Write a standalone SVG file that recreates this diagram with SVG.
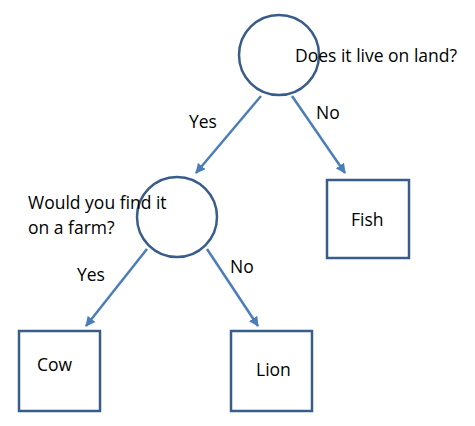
<svg xmlns="http://www.w3.org/2000/svg" width="475" height="426" viewBox="0 0 475 426">
<style>
.n{fill:#fff;stroke:#385d8a;stroke-width:2.5}
.c{stroke:#4a7ebb;stroke-width:2.5;fill:none;marker-end:url(#ah)}
text{font-family:"Open Sans","Liberation Sans",sans-serif;font-size:17.5px;fill:#000}
</style>
<defs>
<marker id="ah" viewBox="0 0 10 10" refX="9" refY="5" markerWidth="4" markerHeight="4" orient="auto" markerUnits="strokeWidth">
<path d="M0,0L10,5L0,10z" fill="#4a7ebb"/>
</marker>
</defs>
<rect width="475" height="426" fill="#fff"/>
<g id="connectors">
<line class="c" x1="261" y1="96" x2="196" y2="173"/>
<line class="c" x1="292" y1="96" x2="345" y2="173"/>
<line class="c" x1="147" y1="249" x2="86" y2="326"/>
<line class="c" x1="207" y1="249" x2="258" y2="326"/>
<text x="189" y="128">Yes</text>
<text x="316" y="119">No</text>
<text x="77" y="281">Yes</text>
<text x="230" y="273">No</text>
</g>
<g id="q1">
<circle class="n" cx="279" cy="55" r="40"/>
<text x="295" y="62">Does it live on land?</text>
</g>
<g id="q2">
<circle class="n" cx="177" cy="217" r="40"/>
<text x="28" y="209">Would you find it</text>
<text x="28" y="234">on a farm?</text>
</g>
<g id="fish">
<rect class="n" x="327" y="180" width="82" height="78"/>
<text x="351" y="226">Fish</text>
</g>
<g id="cow">
<rect class="n" x="19" y="331" width="81" height="80"/>
<text x="37" y="371">Cow</text>
</g>
<g id="lion">
<rect class="n" x="231" y="331" width="81" height="80"/>
<text x="256" y="376">Lion</text>
</g>
</svg>
